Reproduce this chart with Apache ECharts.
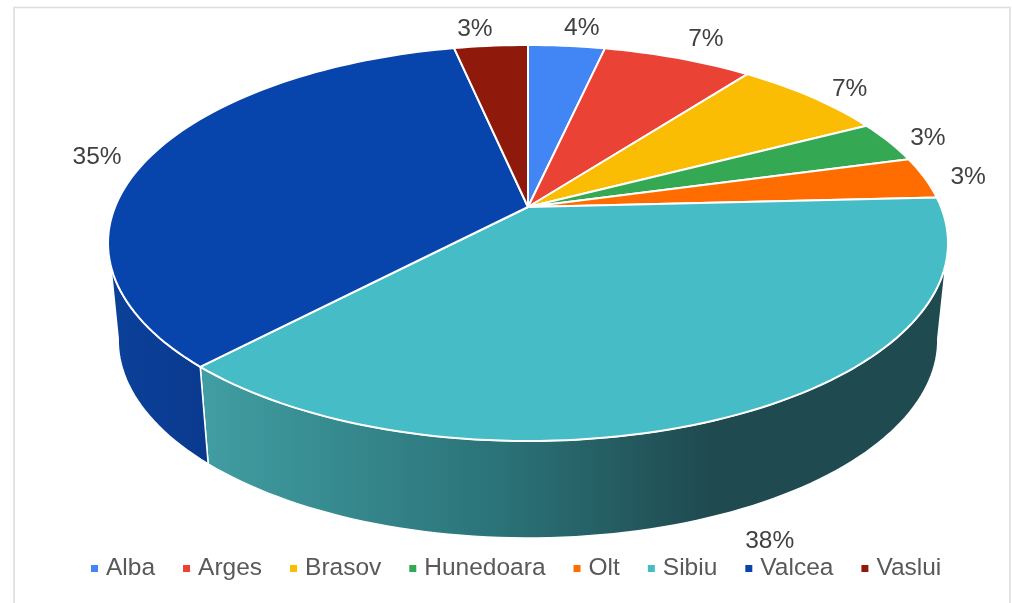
<!DOCTYPE html>
<html>
<head>
<meta charset="utf-8">
<style>
  html, body { margin: 0; padding: 0; background: #fff; }
  #main { width: 1012px; height: 603px; }
</style>
<script src="https://cdn.jsdelivr.net/npm/echarts@6/dist/echarts.min.js"></script>
</head>
<body>
<div id="main"></div>
<script>
var categories = ['Alba', 'Arges', 'Brasov', 'Hunedoara', 'Olt', 'Sibiu', 'Valcea', 'Vaslui'];
var shares = [3.52, 6.88, 7, 3.4, 3.4, 37.9, 34.52, 3.38];
var colors = ['#4285F4', '#EA4335', '#FBBC04', '#34A853', '#FF6D01', '#46BDC6', '#0745AC', '#8F1A0C'];

// label shift from the point just outside the rim
var labelNudge = [[12, -4], [15, -6], [13, 2], [5, 2], [5, 2], [10, 100], [-16, 4], [-13, -3]];

// perspective disc: top face and the base under it
var PIE = { cx: 528, topY: 207, baseY: 304, topB: 413, baseB: 403, a: 191.45, k: 0.1818 };
// part of the rim where the side wall shows (degrees clockwise from the back)
var WALL = { topFrom: 106, topTo: 253, baseFrom: 100, baseTo: 260 };

var total = shares.reduce(function (s, v) { return s + v; }, 0);

function project(deg, r, isBase) {
  var t = deg * Math.PI / 180;
  var u = r * Math.sin(t);
  var v = -r * Math.cos(t);
  var d = 1 - PIE.k * v;
  return [
    PIE.cx + (isBase ? PIE.baseB : PIE.topB) * u / d,
    (isBase ? PIE.baseY : PIE.topY) + PIE.a * v / d
  ];
}

function arc(from, to, isBase) {
  var pts = [];
  var n = Math.max(1, Math.ceil(Math.abs(to - from) / 1.5));
  for (var i = 0; i <= n; i++) {
    pts.push(project(from + (to - from) * i / n, 1, isBase));
  }
  return pts;
}

function wallFill(idx, color) {
  // 高亮到暗的横向渐变
  if (categories[idx] === 'Sibiu') {
    return new echarts.graphic.LinearGradient(208, 0, 800, 0, [
      { offset: 0, color: '#409DA1' },
      { offset: 0.5, color: '#2A7277' },
      { offset: 0.85, color: '#1F4A50' },
      { offset: 1, color: '#1F4A50' }
    ], true);
  }
  return new echarts.graphic.LinearGradient(120, 0, 208, 0, [
    { offset: 0, color: '#0B4099' },
    { offset: 1, color: '#0A3A8E' }
  ], true);
}

function sliceItem(idx, color) {
  return function (params, api) {
    var before = 0;
    for (var i = 0; i < idx; i++) before += shares[i];
    var start = before / total * 360;
    var end = (before + api.value(0)) / total * 360;
    var mid = (start + end) / 2;
    var children = [];

    var tf = Math.max(start, WALL.topFrom), tt = Math.min(end, WALL.topTo);
    var bf = Math.max(start, WALL.baseFrom), bt = Math.min(end, WALL.baseTo);
    if (tf < tt) {
      children.push({
        type: 'polygon',
        z2: 1,
        shape: { points: arc(tf, tt, false).concat(arc(bt, bf, true)) },
        style: { fill: wallFill(idx, color), stroke: '#fff', lineWidth: 1.5, lineJoin: 'round' }
      });
    }

    children.push({
      type: 'polygon',
      z2: 2,
      shape: { points: [[PIE.cx, PIE.topY]].concat(arc(start, end, false)) },
      style: { fill: color, stroke: '#fff', lineWidth: 2, lineJoin: 'round' }
    });

    var p = project(mid, 1.1, false);
    children.push({
      type: 'text',
      z2: 3,
      style: {
        x: p[0] + labelNudge[idx][0],
        y: p[1] + labelNudge[idx][1],
        text: Math.round(api.value(0) / total * 100) + '%',
        fill: '#404040',
        font: '24.5px "Liberation Sans", Arial, sans-serif',
        textAlign: 'center',
        textVerticalAlign: 'middle'
      }
    });
    return { type: 'group', children: children };
  };
}

var myChart = echarts.init(document.getElementById('main'));

var option = {
  animation: false,
  backgroundColor: '#fff',
  color: colors,
  graphic: [{
    type: 'rect',
    silent: true,
    shape: { x: 14, y: 7.5, width: 996, height: 600 },
    style: { fill: 'none', stroke: '#dcdcdc', lineWidth: 1.5 }
  }],
  legend: {
    left: 86,
    top: 551,
    icon: 'rect',
    itemWidth: 7,
    itemHeight: 7,
    itemGap: 28,
    selectedMode: false,
    data: categories,
    textStyle: {
      color: '#595959',
      fontSize: 24.5,
      fontFamily: '"Liberation Sans", Arial, sans-serif',
      padding: [0, 0, 0, 3]
    }
  },
  series: categories.map(function (name, i) {
    return {
      name: name,
      type: 'custom',
      coordinateSystem: 'none',
      silent: true,
      itemStyle: { color: colors[i] },
      data: [[shares[i]]],
      renderItem: sliceItem(i, colors[i])
    };
  })
};

myChart.setOption(option);
</script>
</body>
</html>
